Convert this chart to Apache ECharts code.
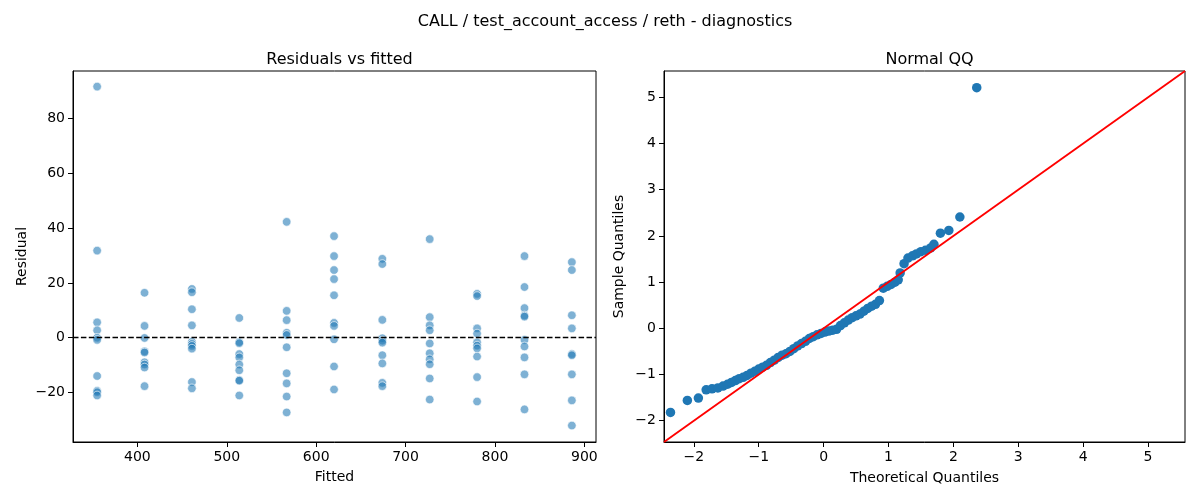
<!DOCTYPE html>
<html>
<head>
<meta charset="utf-8">
<title>CALL / test_account_access / reth - diagnostics</title>
<script src="https://cdn.jsdelivr.net/npm/echarts@6/dist/echarts.min.js"></script>
<style>
  html, body { margin: 0; padding: 0; background: #fff; }
  #chart { width: 1200px; height: 500px; }
</style>
</head>
<body>
<div id="chart"></div>
<script>
// fitted levels on the left panel
var fitted = [355, 408, 461, 514, 567, 620, 674, 727, 780, 833, 886];
// residuals read per fitted level (same order as fitted)
var residuals = [
  [91.7, 31.8, 5.6, 2.7, 0.0, -0.8, -14.0, -19.4, -19.9, -21.1],
  [16.4, 4.3, -0.1, -5.0, -5.4, -9.0, -9.8, -10.9, -17.7],
  [17.8, 16.6, 10.4, 4.5, -1.5, -2.3, -3.0, -4.0, -16.2, -18.5],
  [7.2, -1.6, -2.0, -6.0, -7.2, -9.8, -11.9, -15.5, -15.7, -21.1],
  [42.3, 9.8, 6.4, 1.8, 1.0, -3.5, -13.0, -16.7, -21.5, -27.3],
  [37.1, 29.8, 24.7, 21.4, 15.5, 5.4, 4.3, -0.6, -10.5, -18.9],
  [28.8, 26.9, 6.5, -0.2, -1.1, -1.8, -6.4, -9.4, -16.5, -17.7],
  [36.0, 7.5, 4.5, 2.7, -2.1, -5.7, -7.9, -9.7, -14.9, -22.6],
  [16.0, 15.2, 3.4, 1.5, -1.7, -2.9, -3.9, -6.9, -14.4, -23.3],
  [29.8, 18.5, 10.8, 8.1, 7.7, -0.8, -3.2, -7.2, -13.4, -26.2],
  [27.6, 24.7, 8.2, 3.4, -6.0, -6.4, -13.4, -22.9, -32.1]
];

// normal QQ points (theoretical, sample)
var theoreticalQ = [-2.36, -2.10, -1.93, -1.81, -1.72, -1.63, -1.55, -1.48, -1.42, -1.36,
  -1.30, -1.24, -1.18, -1.12, -1.06, -1.00, -0.94, -0.88, -0.82, -0.76,
  -0.70, -0.64, -0.58, -0.52, -0.46, -0.40, -0.34, -0.28, -0.22, -0.16,
  -0.10, -0.04, 0.02, 0.08, 0.14, 0.20, 0.26, 0.32, 0.38, 0.44,
  0.50, 0.56, 0.62, 0.68, 0.74, 0.80, 0.86, 0.92, 0.98, 1.04,
  1.10, 1.15, 1.18, 1.24, 1.30, 1.37, 1.43, 1.50, 1.57, 1.65,
  1.70, 1.80, 1.93, 2.10, 2.36];
var sampleQ = [-1.82, -1.56, -1.51, -1.33, -1.31, -1.29, -1.25, -1.21, -1.17, -1.13,
  -1.09, -1.06, -1.02, -0.97, -0.93, -0.88, -0.84, -0.80, -0.74, -0.69,
  -0.63, -0.58, -0.55, -0.50, -0.44, -0.38, -0.33, -0.28, -0.22, -0.18,
  -0.14, -0.11, -0.08, -0.06, -0.04, -0.02, 0.06, 0.12, 0.18, 0.23,
  0.27, 0.31, 0.37, 0.43, 0.48, 0.52, 0.60, 0.87, 0.91, 0.95,
  1.00, 1.05, 1.20, 1.40, 1.52, 1.57, 1.61, 1.66, 1.69, 1.74,
  1.82, 2.06, 2.12, 2.41, 5.21];

// 45 degree reference line, spans the QQ axes
var qqLine = [-2.46, 5.57];

// tick labels
var fittedTicks = [400, 500, 600, 700, 800, 900];
var residualTicks = [-20, 0, 20, 40, 60, 80];
var qqTicks = [-2, -1, 0, 1, 2, 3, 4, 5];

var FONT = 'DejaVu Sans';

function minusFmt(v) {
  return v < 0 ? '\u2212' + Math.abs(v) : String(v);
}

function valueAxis(idx, min, max, ticks, name, gap, pos) {
  return {
    type: 'value',
    gridIndex: idx,
    position: pos,
    min: min,
    max: max,
    name: name,
    nameLocation: 'middle',
    nameGap: gap,
    nameTextStyle: { fontFamily: FONT, fontSize: 14, color: '#000' },
    splitLine: { show: false },
    axisLine: { show: true, onZero: false, lineStyle: { color: '#000', width: 1 } },
    axisTick: { show: true, inside: false, length: 5, customValues: ticks, lineStyle: { color: '#000', width: 1 } },
    axisLabel: { customValues: ticks, margin: 8, fontFamily: FONT, fontSize: 14, color: '#000', formatter: minusFmt }
  };
}

var scatterData = [];
fitted.forEach(function (f, i) {
  residuals[i].forEach(function (r) { scatterData.push([f, r]); });
});

var qqData = theoreticalQ.map(function (x, i) { return [x, sampleQ[i]]; });

var chart = echarts.init(document.getElementById('chart'));
chart.setOption({
  animation: false,
  textStyle: { fontFamily: FONT },
  title: [
    { text: 'CALL / test_account_access / reth - diagnostics', left: 600, top: 9, textAlign: 'center',
      textStyle: { fontFamily: FONT, fontSize: 16, fontWeight: 'normal', color: '#000' } },
    { text: 'Residuals vs fitted', left: 334.5, top: 47, textAlign: 'center',
      textStyle: { fontFamily: FONT, fontSize: 16, fontWeight: 'normal', color: '#000' } },
    { text: 'Normal QQ', left: 924.5, top: 47, textAlign: 'center',
      textStyle: { fontFamily: FONT, fontSize: 16, fontWeight: 'normal', color: '#000' } }
  ],
  grid: [
    { left: 73, top: 71, width: 523, height: 371, show: true, borderColor: '#000', borderWidth: 1, backgroundColor: 'transparent' },
    { left: 664, top: 71, width: 521, height: 371, show: true, borderColor: '#000', borderWidth: 1, backgroundColor: 'transparent' }
  ],
  xAxis: [
    valueAxis(0, 328, 913, fittedTicks, 'Fitted', 28, 'bottom'),
    valueAxis(1, qqLine[0], qqLine[1], qqTicks, 'Theoretical Quantiles', 29, 'bottom')
  ],
  yAxis: [
    valueAxis(0, -38.1, 97.4, residualTicks, 'Residual', 44, 'left'),
    valueAxis(1, qqLine[0], qqLine[1], qqTicks, 'Sample Quantiles', 38, 'left')
  ],
  series: [
    {
      type: 'scatter',
      xAxisIndex: 0, yAxisIndex: 0,
      data: scatterData,
      symbolSize: 8.6,
      itemStyle: { color: 'rgba(31,119,180,0.72)', borderColor: '#fff', borderWidth: 0.8 },
      markLine: {
        silent: true,
        symbol: 'none',
        label: { show: false },
        lineStyle: { color: '#000', type: [5.5, 2.4], width: 1.3 },
        data: [{ yAxis: 0 }]
      }
    },
    {
      type: 'scatter',
      xAxisIndex: 1, yAxisIndex: 1,
      data: qqData,
      symbolSize: 9.5,
      itemStyle: { color: '#1f77b4', opacity: 1 }
    },
    {
      type: 'line',
      xAxisIndex: 1, yAxisIndex: 1,
      data: [[qqLine[0], qqLine[0]], [qqLine[1], qqLine[1]]],
      showSymbol: false,
      symbol: 'none',
      lineStyle: { color: '#ff0000', width: 1.9 }
    }
  ]
});
</script>
</body>
</html>
